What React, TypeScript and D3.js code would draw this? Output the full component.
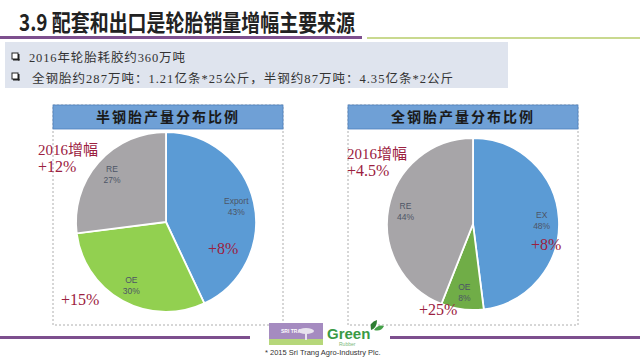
import React from 'react';
import * as d3 from 'd3';

// data
const bullets = [
  '2016年轮胎耗胶约360万吨',
  '全钢胎约287万吨：1.21亿条*25公斤，半钢约87万吨：4.35亿条*2公斤',
];
const panelTitles = ['半钢胎产量分布比例', '全钢胎产量分布比例'];
const semiLabels = ['Export', 'OE', 'RE'];
const semiShares = [43, 30, 27];
const semiGrowth = ['+8%', '+15%', ''];
const allLabels = ['EX', 'OE', 'RE'];
const allShares = [48, 8, 44];
const allGrowth = ['+8%', '+25%', ''];
const totalGrowth = ['+12%', '+4.5%'];

const serif = "'Liberation Serif', 'Noto Sans CJK SC', serif";
const sans = "'Noto Sans CJK SC', sans-serif";
const maroon = '#9b2040';

const panels = [
  {
    x: 53, w: 230, cx: 166, cy: 222, r: 90,
    labels: semiLabels, shares: semiShares, growth: semiGrowth,
    colors: ['#5b9bd5', '#92d050', '#a7a5a8'],
    total: { x: 38, y: 155 },
    growthPos: [[42, 32], [-105, 83]],
  },
  {
    x: 348, w: 230, cx: 473, cy: 224, r: 86,
    labels: allLabels, shares: allShares, growth: allGrowth,
    colors: ['#5b9bd5', '#70ad47', '#a7a5a8'],
    total: { x: 347, y: 159 },
    growthPos: [[58, 26], [-54, 91]],
  },
];

const Pie = ({ p, i }: any) => {
  const pie = d3.pie<number>().sort(null).value(d => d);
  const arcs = pie(p.shares);
  const arc = d3.arc<any>().innerRadius(0).outerRadius(p.r);
  const labelArc = d3.arc<any>().innerRadius(p.r * 0.8).outerRadius(p.r * 0.8);

  return (
    <g>
      {/* panel frame + header */}
      <rect x={p.x} y={105} width={p.w} height={220} fill="none"
        stroke="#9a9a9a" strokeDasharray="2,2" strokeWidth={0.8} />
      <rect x={p.x} y={105} width={p.w} height={24} fill="#6fa0d6" stroke="#4f81bd" strokeWidth={0.8} />
      <text x={p.x + p.w / 2} y={122} textAnchor="middle" fontFamily={sans}
        fontWeight={700} fontSize={14} letterSpacing={2} fill="#1a1a1a">{panelTitles[i]}</text>

      <g transform={`translate(${p.cx},${p.cy})`}>
        {arcs.map((a, j) => (
          <path key={j} d={arc(a) as string} fill={p.colors[j]} stroke="#fff" strokeWidth={1.8} />
        ))}
        {arcs.map((a, j) => {
          const [lx, ly] = labelArc.centroid(a);
          return (
            <text key={'l' + j} x={lx} y={ly} textAnchor="middle" fontFamily="'Liberation Sans', sans-serif"
              fontSize={8.5} fill="#4d5566">
              <tspan x={lx} dy={-2}>{p.labels[j]}</tspan>
              <tspan x={lx} dy={11}>{p.shares[j]}%</tspan>
            </text>
          );
        })}
        {p.growthPos.map((g: number[], j: number) => (
          <text key={'g' + j} x={g[0]} y={g[1]} fontFamily={serif} fontSize={16} fill={maroon}>{p.growth[j]}</text>
        ))}
      </g>

      <text x={p.total.x} y={p.total.y} fontFamily={serif} fontSize={15} fill={maroon}>2016增幅</text>
      <text x={p.total.x} y={p.total.y + 17} fontFamily={serif} fontSize={16} fill={maroon}>{totalGrowth[i]}</text>
    </g>
  );
};

const App = () => {
  return (
    <svg width={640} height={360} style={{ position: 'absolute', left: 0, top: 0, background: '#fff' }}>
      <rect width={640} height={360} fill="#fff" />
      {/* title */}
      <text x={19} y={31} fontFamily={sans} fontWeight={700} fontSize={23} fill="#222"
        textLength={336} lengthAdjust="spacingAndGlyphs">3.9 配套和出口是轮胎销量增幅主要来源</text>
      <rect x={0} y={36} width={362} height={3} fill="#7d4f8e" />
      <rect x={367} y={37} width={273} height={2} fill="#c9d98f" />

      {/* info box */}
      <rect x={5} y={42} width={503} height={46} fill="#dfe4ee" />
      {bullets.map((b, i) => (
        <g key={i}>
          <rect x={12} y={53 + i * 20} width={6} height={6} fill="#fff" stroke="#222" strokeWidth={1} />
          <rect x={18} y={54 + i * 20} width={1.5} height={6.5} fill="#222" />
          <rect x={13} y={59 + i * 20} width={6.5} height={1.5} fill="#222" />
          <text x={i === 0 ? 29 : 32} y={62 + i * 21} fontFamily={serif} fontSize={12.5} fill="#333"
            textLength={i === 0 ? 156 : 421}>{b}</text>
        </g>
      ))}

      {panels.map((p, i) => <Pie key={i} p={p} i={i} />)}

      {/* footer */}
      <rect x={0} y={336} width={250} height={3} fill="#7d4f8e" />
      <rect x={390} y={336} width={250} height={3} fill="#7d4f8e" />
      <rect x={269} y={323} width={54} height={16} fill="#a58bc0" />
      <rect x={269} y={339} width={54} height={6} fill="#b6d77a" />
      <text x={281} y={333} fontFamily="'Liberation Sans', sans-serif" fontSize={5} fontWeight={700} fill="#fff">SRI TRANG</text>
      <ellipse cx={306} cy={331} rx={8} ry={3} fill="#e8e3ee" />
      <rect x={305} y={331} width={2} height={9} fill="#e8e3ee" />
      <text x={327} y={339} fontFamily="'Liberation Sans', sans-serif" fontSize={15} fontWeight={700} fill="#3a9a45">Green</text>
      <text x={339} y={346} fontFamily="'Liberation Sans', sans-serif" fontSize={5} fill="#7ab87a">Rubber</text>
      <path d="M371,330 q-2,-8 6,-10 q0,8 -6,10z" fill="#2e7d32" />
      <path d="M374,330 q4,-6 10,-4 q-3,6 -10,4z" fill="#43a047" />
      <text x={265} y={355} fontFamily="'Liberation Sans', sans-serif" fontSize={7.5} fill="#333">* 2015 Sri Trang Agro-Industry Plc.</text>
    </svg>
  );
};

export default App;
